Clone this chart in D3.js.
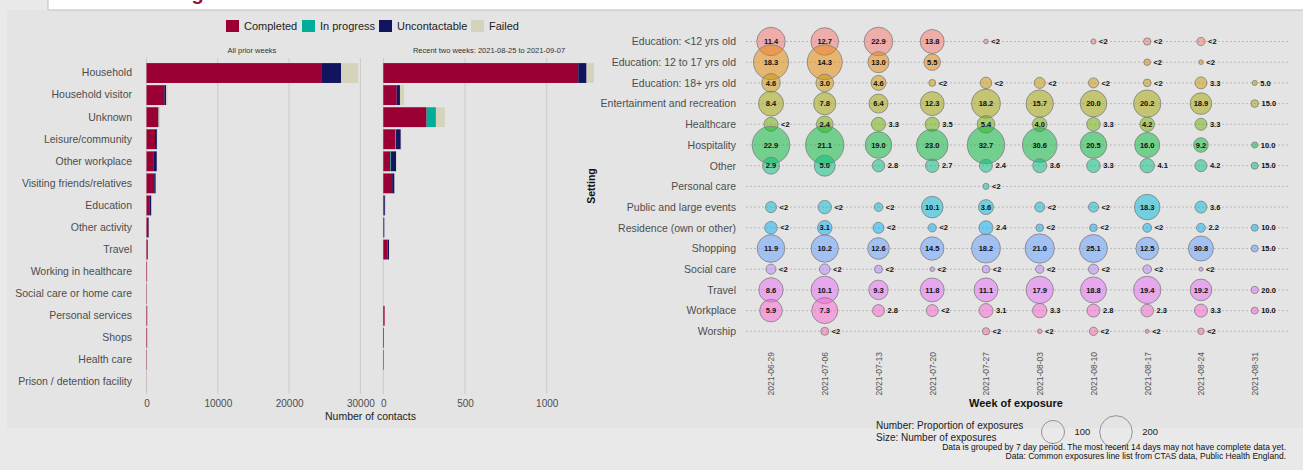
<!DOCTYPE html>
<html>
<head>
<meta charset="utf-8">
<script src="https://cdn.jsdelivr.net/npm/d3@7"></script>
<style>
  body { margin: 0; background: #e9e9e9; font-family: "Liberation Sans", Arial, sans-serif; }
  svg { display: block; }
</style>
</head>
<body>
<svg id="chart" width="1303" height="470"></svg>
<script>
'use strict';

// ---- left: contact tracing outcomes by setting ----
const contactSettings = ['Household', 'Household visitor', 'Unknown', 'Leisure/community', 'Other workplace',
    'Visiting friends/relatives', 'Education', 'Other activity', 'Travel', 'Working in healthcare',
    'Social care or home care', 'Personal services', 'Shops', 'Health care', 'Prison / detention facility'];
const statusKeys = ['Completed', 'In progress', 'Uncontactable', 'Failed'];

const priorCompleted     = [24500, 2500, 1650, 1190, 1030, 1080, 390, 280, 170, 70, 50, 90, 80, 50, 10];
const priorInProgress    = [0, 0, 0, 0, 0, 0, 0, 0, 0, 0, 0, 0, 0, 0, 0];
const priorUncontactable = [2800, 250, 50, 270, 420, 220, 270, 60, 30, 10, 5, 10, 10, 5, 0];
const priorFailed        = [2400, 200, 200, 60, 50, 50, 20, 20, 10, 5, 5, 5, 5, 5, 0];

const recentCompleted     = [1193, 82, 265, 72, 42, 54, 6, 4, 26, 0, 0, 8, 4, 3, 0];
const recentInProgress    = [0, 0, 57, 6, 4, 0, 0, 0, 0, 0, 0, 0, 0, 0, 0];
const recentUncontactable = [51, 20, 0, 29, 32, 14, 5, 2, 9, 0, 0, 0, 0, 0, 0];
const recentFailed        = [45, 25, 55, 4, 3, 2, 0, 0, 0, 2, 0, 0, 0, 0, 0];

const priorTicks = [0, 10000, 20000, 30000];
const recentTicks = [0, 500, 1000];

// ---- right: common exposures by week ----
const weeks = ['2021-06-29', '2021-07-06', '2021-07-13', '2021-07-20', '2021-07-27',
    '2021-08-03', '2021-08-10', '2021-08-17', '2021-08-24', '2021-08-31'];
const exposureSettings = ['Education: <12 yrs old', 'Education: 12 to 17 yrs old', 'Education: 18+ yrs old',
    'Entertainment and recreation', 'Healthcare', 'Hospitality', 'Other', 'Personal care',
    'Public and large events', 'Residence (own or other)', 'Shopping', 'Social care', 'Travel',
    'Workplace', 'Worship'];

// number of exposures (bubble size), one row per setting, one column per week
const exposureCounts = [
    [152, 143, 154, 108, 4, null, 5, 10, 13, null],
    [230, 230, 83, 51, null, null, null, 8, 4, null],
    [65, 58, 42, 9, 25, 23, 19, 11, 27, 5],
    [118, 94, 68, 108, 158, 141, 133, 141, 88, 11],
    [37, 52, 37, 38, 58, 40, 35, 40, 27, null],
    [266, 277, 133, 188, 263, 225, 133, 118, 40, 7],
    [54, 83, 29, 34, 32, 37, 35, 39, 27, 9],
    [null, null, null, null, 7, null, null, null, null, null],
    [23, 34, 14, 88, 42, 19, 19, 123, 27, null],
    [30, 40, 23, 13, 37, 11, 11, 15, 15, 9],
    [143, 141, 88, 103, 158, 162, 147, 96, 118, 9],
    [19, 21, 12, 4, 11, 13, 19, 14, 3, null],
    [112, 141, 71, 108, 108, 141, 127, 141, 88, 10],
    [96, 127, 27, 27, 37, 39, 32, 30, 32, 9],
    [null, 12, null, null, 10, 4, 13, 3, 8, null]
];

// proportion of exposures (%), same layout
const exposureShares = [
    [11.4, 12.7, 22.9, 13.8, 0.3, null, 0.4, 0.8, 1.0, null],
    [18.3, 14.3, 13.0, 5.5, null, null, null, 0.7, 0.4, null],
    [4.6, 3.0, 4.6, 0.8, 1.5, 1.4, 1.2, 0.9, 3.3, 5.0],
    [8.4, 7.8, 6.4, 12.3, 18.2, 15.7, 20.0, 20.2, 18.9, 15.0],
    [1.8, 2.4, 3.3, 3.5, 5.4, 4.0, 3.3, 4.2, 3.3, null],
    [22.9, 21.1, 19.0, 23.0, 32.7, 30.6, 20.5, 16.0, 9.2, 10.0],
    [2.9, 5.0, 2.8, 2.7, 2.4, 3.6, 3.3, 4.1, 4.2, 15.0],
    [null, null, null, null, 0.2, null, null, null, null, null],
    [1.2, 1.6, 0.9, 10.1, 3.6, 1.1, 1.3, 18.3, 3.6, null],
    [1.5, 3.1, 1.4, 0.8, 2.4, 0.7, 0.8, 1.0, 2.2, 10.0],
    [11.9, 10.2, 12.6, 14.5, 18.2, 21.0, 25.1, 12.5, 30.8, 15.0],
    [1.0, 1.1, 0.8, 0.3, 0.6, 0.8, 1.2, 0.9, 0.3, null],
    [8.6, 10.1, 9.3, 11.8, 11.1, 17.9, 18.8, 19.4, 19.2, 20.0],
    [5.9, 7.3, 2.8, 1.5, 3.1, 3.3, 2.8, 2.3, 3.3, 10.0],
    [null, 0.9, null, null, 0.6, 0.3, 0.8, 0.2, 0.5, null]
];
const sizeLegendValues = [100, 200];

// styles
const statusColours = ['#9a0033', '#00ad9a', '#11145f', '#d5d3bb'];
const settingColours = ['#F8766D', '#E58700', '#C99800', '#A3A500', '#6BB100', '#00BA38', '#00BF7D', '#00C0AF',
    '#00BCD8', '#00B0F6', '#619CFF', '#B983FF', '#E76BF3', '#FD61D1', '#FF67A4'];
const axisGrey = '#4d4d4d';

const svg = d3.select('#chart');

// page pieces
svg.append('rect').attr('x', 7).attr('y', 10).attr('width', 1296).attr('height', 418).attr('fill', '#e4e4e4');
svg.append('rect').attr('x', 48).attr('y', -5).attr('width', 1262).attr('height', 15)
    .attr('fill', '#ffffff').attr('stroke', '#bdbdbd');
// title of the page, scrolled mostly out of view in the reference
svg.append('text').attr('x', 57).attr('y', -0.5).text('Contact tracing data')
    .style('font-size', '20px').style('font-weight', 'bold').style('fill', '#9b0d2e');

// ---------------- left chart ----------------
const colour = d3.scaleOrdinal().domain(statusKeys).range(statusColours);

const y = d3.scaleBand().domain(contactSettings).range([62, 393]).paddingInner(0.1).paddingOuter(0.05);

const makeRows = function (a, b, c, d) {
    return contactSettings.map(function (s, i) {
        return { 'setting': s, 'Completed': a[i], 'In progress': b[i], 'Uncontactable': c[i], 'Failed': d[i] };
    });
};

const panels = [
    { title: 'All prior weeks', rows: makeRows(priorCompleted, priorInProgress, priorUncontactable, priorFailed),
      x: d3.scaleLinear().domain([0, 30000]).range([146.5, 360.4]), ticks: priorTicks, left: 144, right: 360 },
    { title: 'Recent two weeks: 2021-08-25 to 2021-09-07',
      rows: makeRows(recentCompleted, recentInProgress, recentUncontactable, recentFailed),
      x: d3.scaleLinear().domain([0, 1000]).range([383.3, 546.7]), ticks: recentTicks, left: 383, right: 595 }
];

const stack = d3.stack().keys(statusKeys);

panels.forEach(function (p) {
    const g = svg.append('g');

    g.selectAll('line.grid').data(p.ticks).enter().append('line')
        .attr('class', 'grid')
        .attr('x1', function (d) { return p.x(d); }).attr('x2', function (d) { return p.x(d); })
        .attr('y1', 58).attr('y2', 394)
        .style('stroke', '#c4c4c4').style('stroke-width', 0.8);

    g.selectAll('g.series').data(stack(p.rows)).enter().append('g')
        .attr('class', 'series')
        .style('fill', function (d) { return colour(d.key); })
        .selectAll('rect').data(function (d) { return d; })
        .enter().append('rect')
        .attr('x', function (d) { return p.x(d[0]); })
        .attr('y', function (d) { return y(d.data.setting); })
        .attr('width', function (d) { return Math.max(0, p.x(d[1]) - p.x(d[0])); })
        .attr('height', y.bandwidth());

    g.append('text').attr('x', (p.left + p.right) / 2).attr('y', 53)
        .attr('text-anchor', 'middle').text(p.title)
        .style('font-size', '7.5px').style('fill', '#333');

    const axis = d3.axisBottom(p.x).tickValues(p.ticks).tickSize(0).tickFormat(d3.format('d'));
    const ax = g.append('g').attr('transform', 'translate(0,397)').call(axis);
    ax.select('.domain').remove();
    ax.selectAll('text').style('font-size', '10px').style('fill', axisGrey)
        .style('font-family', '"Liberation Sans", Arial, sans-serif');
});

const yAxis = svg.append('g').attr('transform', 'translate(135,0)')
    .call(d3.axisLeft(y).tickSize(0));
yAxis.select('.domain').remove();
yAxis.selectAll('text').style('font-size', '10.5px').style('fill', axisGrey)
    .style('font-family', '"Liberation Sans", Arial, sans-serif');

svg.append('text').attr('x', 370.5).attr('y', 420).attr('text-anchor', 'middle')
    .text('Number of contacts').style('font-size', '10.5px').style('fill', '#222');

// legend
const legendX = [226, 302, 379, 471];
const legend = svg.append('g').selectAll('g').data(statusKeys).enter().append('g')
    .attr('transform', function (d, i) { return 'translate(' + legendX[i] + ', 20)'; });
legend.append('rect').attr('width', 13).attr('height', 12).style('fill', function (d) { return colour(d); });
legend.append('text').attr('x', 18).attr('y', 10).text(function (d) { return d; })
    .style('font-size', '11px').style('fill', '#222');

// ---------------- right chart ----------------
const xw = d3.scalePoint().domain(weeks).range([771, 1254.7]);
const ys = d3.scalePoint().domain(exposureSettings).range([41.5, 331.3]);
const r = d3.scaleSqrt().domain([0, 200]).range([0, 16.3]);
const fillOf = d3.scaleOrdinal().domain(exposureSettings).range(settingColours);

const rg = svg.append('g');

rg.selectAll('line.row').data(exposureSettings).enter().append('line')
    .attr('class', 'row')
    .attr('x1', 746).attr('x2', 1288)
    .attr('y1', function (d) { return ys(d); }).attr('y2', function (d) { return ys(d); })
    .style('stroke', '#a8a8a8').style('stroke-width', 0.7).style('stroke-dasharray', '2,2');

const cells = [];
exposureSettings.forEach(function (s, i) {
    weeks.forEach(function (w, j) {
        if (exposureCounts[i][j] != null) {
            cells.push({ setting: s, week: w, n: exposureCounts[i][j], share: exposureShares[i][j] });
        }
    });
});

rg.selectAll('circle').data(cells).enter().append('circle')
    .attr('cx', function (d) { return xw(d.week); })
    .attr('cy', function (d) { return ys(d.setting); })
    .attr('r', function (d) { return r(d.n); })
    .style('fill', function (d) { return fillOf(d.setting); })
    .style('fill-opacity', 0.5)
    .style('stroke', '#7d7d7d').style('stroke-width', 0.8);

const labelText = function (d) { return d.share < 2 ? '<2' : d3.format('.1f')(d.share); };

rg.selectAll('text.lab').data(cells).enter().append('text')
    .attr('class', 'lab')
    .attr('x', function (d) { return d.n >= 40 ? xw(d.week) : xw(d.week) + r(d.n) + 3; })
    .attr('y', function (d) { return ys(d.setting); })
    .attr('dy', '0.35em')
    .attr('text-anchor', function (d) { return d.n >= 40 ? 'middle' : 'start'; })
    .text(labelText)
    .style('font-size', '7.5px').style('font-weight', 'bold').style('fill', '#111');

const ysAxis = svg.append('g').attr('transform', 'translate(739,0)').call(d3.axisLeft(ys).tickSize(0));
ysAxis.select('.domain').remove();
ysAxis.selectAll('text').style('font-size', '10.5px').style('fill', axisGrey)
    .style('font-family', '"Liberation Sans", Arial, sans-serif');

const xwAxis = svg.append('g').attr('transform', 'translate(0,350)').call(d3.axisBottom(xw).tickSize(0));
xwAxis.select('.domain').remove();
xwAxis.selectAll('text')
    .attr('transform', 'rotate(-90)')
    .attr('x', -2).attr('y', 0).attr('dy', '0.35em')
    .attr('text-anchor', 'end')
    .style('font-size', '8.5px').style('fill', '#555')
    .style('font-family', '"Liberation Sans", Arial, sans-serif');

svg.append('text').attr('x', 1016).attr('y', 407).attr('text-anchor', 'middle')
    .text('Week of exposure').style('font-size', '11px').style('font-weight', 'bold').style('fill', '#111');

svg.append('text').attr('transform', 'translate(595,186) rotate(-90)').attr('text-anchor', 'middle')
    .text('Setting').style('font-size', '10.5px').style('font-weight', 'bold').style('fill', '#111');

// size legend
svg.append('text').attr('x', 876).attr('y', 429).text('Number: Proportion of exposures')
    .style('font-size', '10px').style('fill', '#222');
svg.append('text').attr('x', 876).attr('y', 441).text('Size: Number of exposures')
    .style('font-size', '10px').style('fill', '#222');

const sizeLegendX = [1053, 1116];
const sl = svg.append('g').selectAll('g').data(sizeLegendValues).enter().append('g')
    .attr('transform', function (d, i) { return 'translate(' + sizeLegendX[i] + ', 432)'; });
sl.append('circle').attr('r', function (d) { return r(d); })
    .style('fill', 'none').style('stroke', '#8a8a8a').style('stroke-width', 0.9);
sl.append('text').attr('x', function (d) { return r(d) + 10; }).attr('dy', '0.35em').text(function (d) { return d; })
    .style('font-size', '9.5px').style('fill', '#222');

svg.append('text').attr('x', 1286).attr('y', 450).attr('text-anchor', 'end')
    .text('Data is grouped by 7 day period. The most recent 14 days may not have complete data yet.')
    .style('font-size', '8.5px').style('fill', '#111');
svg.append('text').attr('x', 1286).attr('y', 459).attr('text-anchor', 'end')
    .text('Data: Common exposures line list from CTAS data, Public Health England.')
    .style('font-size', '8.5px').style('fill', '#111');
</script>
</body>
</html>
